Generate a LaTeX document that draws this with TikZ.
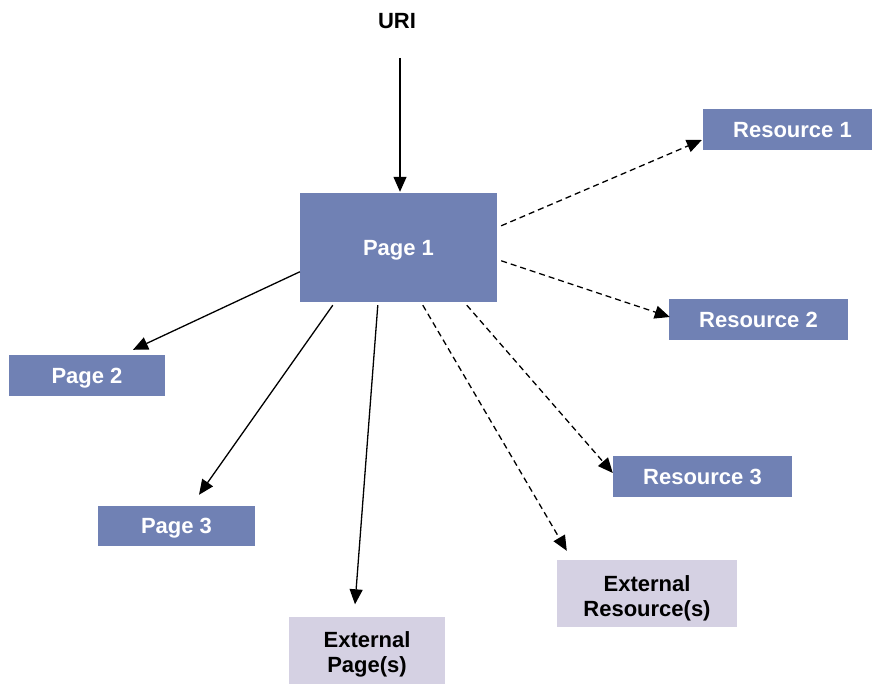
\documentclass[tikz,border=0pt]{standalone}
\usepackage{fontspec}
\setmainfont{Liberation Sans}
\usetikzlibrary{arrows.meta,calc}
\definecolor{pagefill}{RGB}{112,129,180}
\definecolor{extfill}{RGB}{213,209,227}
\begin{document}
\begin{tikzpicture}[x=1pt,y=-1pt,
  lbl/.style={font=\fontsize{22}{25}\selectfont\bfseries,inner sep=0pt,
    text height=15.7pt,text depth=0pt},
  box/.style={lbl,fill=pagefill,text=white,align=center},
  extbox/.style={lbl,fill=extfill,text=black,align=center,text height=45pt},
  link/.style={line width=1.3pt,-{Triangle[length=15pt,width=13pt]}},
  reslink/.style={link,dash pattern=on 6pt off 4pt}]
\useasboundingbox (0,0) rectangle (872,684);
\fill[white] (0,0) rectangle (872,684);

% nodes (Resource 1 runs past the right edge of the page)
\node[lbl] (uri) at (397,20.5) {URI};
\node[box,minimum width=197,minimum height=109] (p1) at (398.5,247.5) {Page 1};
\node[box,minimum width=179,minimum height=41] (r1) at (792.5,129.5) {Resource 1};
\node[box,minimum width=179,minimum height=41] (r2) at (758.5,319.5) {Resource 2};
\node[box,minimum width=179,minimum height=41] (r3) at (702.5,476.5) {Resource 3};
\node[box,minimum width=156,minimum height=41] (p2) at (87,375.5) {Page 2};
\node[box,minimum width=157,minimum height=40] (p3) at (176.5,526) {Page 3};
\node[extbox,minimum width=180,minimum height=67] (er) at (647,593.5) {External\\Resource(s)};
\node[extbox,minimum width=156,minimum height=67] (ep) at (367,650) {External\\Page(s)};

% entry link
\draw[link] ($(p1.north)+(1.5,-135)$) -- ($(p1.north)+(1.5,-1)$);

% page links
\draw[link] ($(p1.north west)+(0,79)$) -- ($(p2.north)+(46,-5)$);
\draw[link] ($(p1.south west)+(33,3)$) -- ($(p3.north)+(22.5,-11)$);
\draw[link] ($(p1.south west)+(78,3)$) -- ($(ep.north)+(-12,-12)$);

% resource links
\draw[reslink] ($(p1.north east)+(4,33)$) -- ($(r1.west)+(-1,10.5)$);
\draw[reslink] ($(p1.north east)+(4,68)$) -- ($(r2.west)+(1,-2.5)$);
\draw[reslink] ($(p1.south west)+(167,3)$) -- ($(r3.west)+(0,-3.5)$);
\draw[reslink] ($(p1.south west)+(123,3)$) -- ($(er.north west)+(10,-9)$);
\end{tikzpicture}
\end{document}
